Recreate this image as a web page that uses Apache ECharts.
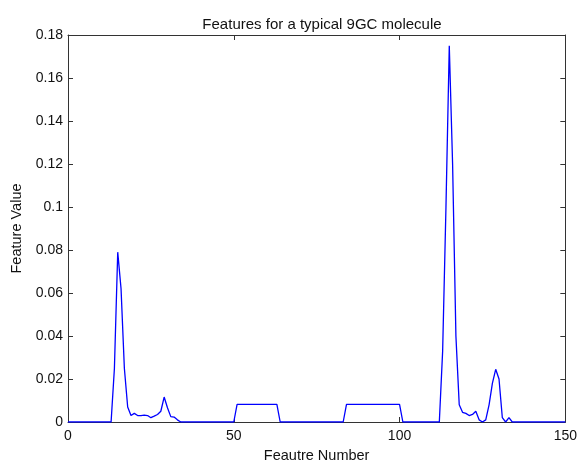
<!DOCTYPE html>
<html>
<head>
<meta charset="utf-8">
<script src="https://cdn.jsdelivr.net/npm/echarts@6/dist/echarts.min.js"></script>
<style>html,body{margin:0;padding:0;background:#fff;}#c{width:580px;height:468px;}</style>
</head>
<body>
<div id="c"></div>
<script>
var titleText = "Features for a typical 9GC molecule";
var xName = "Feautre Number";
var yName = "Feature Value";
var xTicks = [0, 50, 100, 150];
var yTicks = [0, 0.02, 0.04, 0.06, 0.08, 0.1, 0.12, 0.14, 0.16, 0.18];
var featureNumbers = [
 0,1,2,3,4,5,6,7,8,9,10,11,12,13,14,15,16,17,18,19,
 20,21,22,23,24,25,26,27,28,29,30,31,32,33,34,35,36,37,38,39,
 40,41,42,43,44,45,46,47,48,49,50,51,52,53,54,55,56,57,58,59,
 60,61,62,63,64,65,66,67,68,69,70,71,72,73,74,75,76,77,78,79,
 80,81,82,83,84,85,86,87,88,89,90,91,92,93,94,95,96,97,98,99,
 100,101,102,103,104,105,106,107,108,109,110,111,112,113,114,115,116,117,118,119,
 120,121,122,123,124,125,126,127,128,129,130,131,132,133,134,135,136,137,138,139,
 140,141,142,143,144,145,146,147,148,149,150
];
var featureValues = [
 0,0,0,0,0,0,0,0,0,0, 0,0,0,0,0.025,0.079,0.062,0.025,0.007,0.003,
 0.004,0.003,0.003,0.0032,0.003,0.002,0.0027,0.0035,0.005,0.0116, 0.0066,0.0025,0.0023,0.001,0,0,0,0,0,0,
 0,0,0,0,0,0,0,0,0,0, 0,0.0082,0.0082,0.0082,0.0082,0.0082,0.0082,0.0082,0.0082,0.0082,
 0.0082,0.0082,0.0082,0.0082,0,0,0,0,0,0, 0,0,0,0,0,0,0,0,0,0,
 0,0,0,0,0.0082,0.0082,0.0082,0.0082,0.0082,0.0082, 0.0082,0.0082,0.0082,0.0082,0.0082,0.0082,0.0082,0.0082,0.0082,0.0082,
 0.0082,0,0,0,0,0,0,0,0,0, 0,0,0,0.033,0.1,0.175,0.12,0.04,0.008,0.0045,
 0.004,0.003,0.0035,0.005,0.001,0,0.001,0.008,0.018,0.0245, 0.02,0.002,0,0.002,0,0,0,0,0,0,
 0,0,0,0,0,0,0,0,0,0, 0
];
var seriesData = featureNumbers.map(function (x, i) { return [x, featureValues[i]]; });
var font = "Liberation Sans, Arial, sans-serif";
var axisColor = "#333";
function baseX(pos, showLabels) {
  return {
    type: "value", position: pos, min: xTicks[0], max: xTicks[xTicks.length - 1], interval: 50,
    axisLine: { show: true, onZero: false, lineStyle: { color: axisColor, width: 1 } },
    axisTick: { show: true, inside: true, length: 5, lineStyle: { color: axisColor } },
    axisLabel: { show: showLabels, color: "#111", fontSize: 14, fontFamily: font, margin: 7 },
    splitLine: { show: false }
  };
}
function baseY(pos, showLabels) {
  return {
    type: "value", position: pos, min: yTicks[0], max: yTicks[yTicks.length - 1], interval: 0.02,
    axisLine: { show: true, onZero: false, lineStyle: { color: axisColor, width: 1 } },
    axisTick: { show: true, inside: true, length: 5, lineStyle: { color: axisColor } },
    axisLabel: { show: showLabels, color: "#111", fontSize: 14, fontFamily: font, margin: 5,
      formatter: function (v) { return String(Math.round(v * 100) / 100); } },
    splitLine: { show: false }
  };
}
var xb = baseX("bottom", true);
xb.name = xName; xb.nameLocation = "middle"; xb.nameGap = 26;
xb.nameTextStyle = { color: "#111", fontSize: 14.5, fontFamily: font };
var xt = baseX("top", false);
var yl = baseY("left", true);
yl.name = yName; yl.nameLocation = "middle"; yl.nameGap = 43;
yl.nameTextStyle = { color: "#111", fontSize: 14.5, fontFamily: font };
var yr = baseY("right", false);
var chart = echarts.init(document.getElementById("c"), null, { renderer: "canvas" });
chart.setOption({
  animation: false,
  backgroundColor: "#fff",
  title: { text: titleText, left: 317, textAlign: "center", top: 12,
    textStyle: { color: "#111", fontSize: 15, fontWeight: "normal", fontFamily: font } },
  grid: { left: 68, right: 13, top: 35, bottom: 40, containLabel: false },
  xAxis: [xb, xt],
  yAxis: [yl, yr],
  series: [{
    type: "line", data: seriesData, xAxisIndex: 0, yAxisIndex: 0,
    showSymbol: false, symbol: "none", smooth: false,
    lineStyle: { color: "#0000ff", width: 1.3 }
  }]
});
</script>
</body>
</html>
